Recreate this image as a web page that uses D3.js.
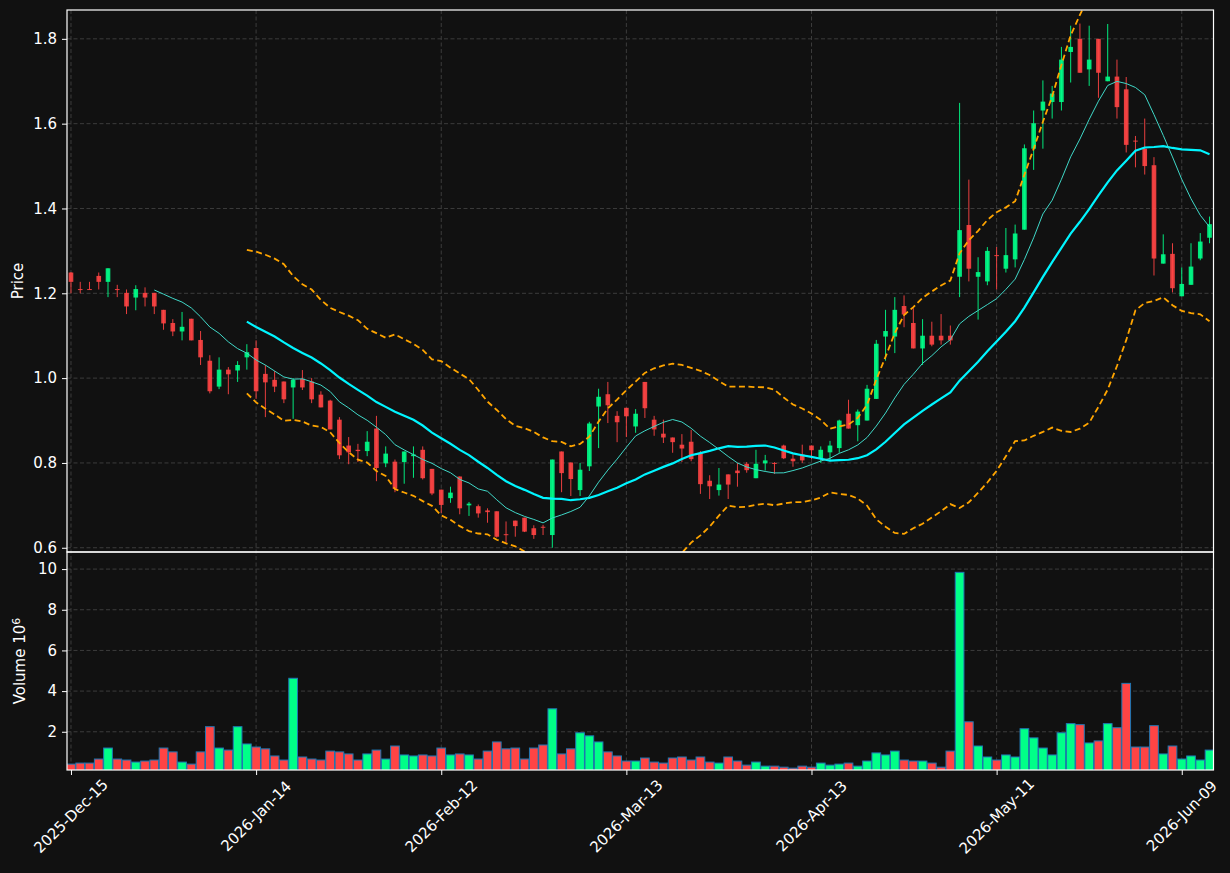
<!DOCTYPE html>
<html>
<head>
<meta charset="utf-8">
<script src="https://cdn.jsdelivr.net/npm/d3@7"></script>
<style>
  body { margin: 0; background: #111111; }
  svg text { font-family: "DejaVu Sans", sans-serif; fill: #ffffff; }
</style>
</head>
<body>
<div id="chart"></div>
<script>
// tick labels on the x axis (bar index based, one label every 20 sessions)
const tickLabels = ["2025-Dec-15", "2026-Jan-14", "2026-Feb-12", "2026-Mar-13", "2026-Apr-13", "2026-May-11", "2026-Jun-09"];
const tickIndex = [0, 20, 40, 60, 80, 100, 120];

const priceTicks = [0.6, 0.8, 1.0, 1.2, 1.4, 1.6, 1.8];
const volumeTicks = [2, 4, 6, 8, 10];

const openPrices = [
  1.249, 1.210, 1.210, 1.241, 1.227, 1.210, 1.201, 1.190, 1.201, 1.201,
  1.161, 1.130, 1.110, 1.140, 1.090, 1.041, 0.980, 1.020, 1.018, 1.049,
  1.071, 1.010, 0.996, 0.992, 0.978, 0.998, 0.992, 0.961, 0.947, 0.902,
  0.841, 0.831, 0.828, 0.881, 0.799, 0.803, 0.802, 0.816, 0.831, 0.786,
  0.737, 0.717, 0.768, 0.700, 0.698, 0.688, 0.686, 0.632, 0.664, 0.671,
  0.646, 0.6495, 0.630, 0.827, 0.801, 0.736, 0.792, 0.933, 0.962, 0.911,
  0.930, 0.886, 0.991, 0.902, 0.869, 0.860, 0.843, 0.850, 0.823, 0.758,
  0.736, 0.773, 0.782, 0.798, 0.764, 0.799, 0.800, 0.841, 0.810, 0.820,
  0.841, 0.811, 0.825, 0.835, 0.916, 0.889, 0.900, 0.951, 1.098, 1.098,
  1.170, 1.130, 1.070, 1.100, 1.100, 1.100, 1.239, 1.361, 1.239, 1.228,
  1.290, 1.258, 1.280, 1.350, 1.541, 1.631, 1.651, 1.651, 1.769, 1.800,
  1.728, 1.800, 1.700, 1.711, 1.681, 1.560, 1.541, 1.502, 1.270, 1.293,
  1.193, 1.220, 1.282, 1.331
];
const highPrices = [
  1.250, 1.227, 1.227, 1.249, 1.259, 1.220, 1.209, 1.219, 1.214, 1.201,
  1.161, 1.139, 1.156, 1.140, 1.111, 1.054, 1.049, 1.026, 1.040, 1.080,
  1.089, 1.031, 1.017, 0.992, 1.000, 1.019, 1.000, 0.969, 0.949, 0.908,
  0.861, 0.845, 0.875, 0.911, 0.839, 0.808, 0.827, 0.839, 0.839, 0.786,
  0.737, 0.744, 0.768, 0.708, 0.702, 0.693, 0.686, 0.662, 0.664, 0.671,
  0.653, 0.654, 0.808, 0.827, 0.801, 0.800, 0.897, 0.975, 0.991, 0.922,
  0.930, 0.927, 0.991, 0.911, 0.902, 0.860, 0.868, 0.878, 0.828, 0.771,
  0.788, 0.773, 0.800, 0.802, 0.831, 0.819, 0.802, 0.843, 0.820, 0.843,
  0.841, 0.839, 0.852, 0.902, 0.949, 0.926, 0.984, 1.090, 1.161, 1.191,
  1.195, 1.165, 1.139, 1.133, 1.151, 1.124, 1.649, 1.468, 1.285, 1.309,
  1.309, 1.354, 1.362, 1.551, 1.631, 1.702, 1.689, 1.781, 1.831, 1.836,
  1.831, 1.800, 1.835, 1.751, 1.710, 1.571, 1.612, 1.521, 1.339, 1.318,
  1.261, 1.318, 1.342, 1.381
];
const lowPrices = [
  1.200, 1.200, 1.209, 1.209, 1.191, 1.191, 1.151, 1.160, 1.169, 1.151,
  1.114, 1.099, 1.089, 1.089, 1.031, 0.964, 0.974, 0.962, 0.991, 1.020,
  0.951, 0.908, 0.967, 0.941, 0.904, 0.972, 0.941, 0.931, 0.879, 0.809,
  0.797, 0.802, 0.816, 0.757, 0.790, 0.731, 0.751, 0.765, 0.761, 0.724,
  0.682, 0.706, 0.679, 0.675, 0.671, 0.659, 0.624, 0.612, 0.626, 0.637,
  0.621, 0.630, 0.600, 0.731, 0.722, 0.722, 0.781, 0.835, 0.894, 0.849,
  0.861, 0.871, 0.906, 0.864, 0.847, 0.824, 0.802, 0.804, 0.727, 0.715,
  0.723, 0.715, 0.744, 0.777, 0.764, 0.782, 0.774, 0.809, 0.791, 0.800,
  0.809, 0.800, 0.804, 0.824, 0.881, 0.851, 0.900, 0.951, 1.041, 1.059,
  1.120, 1.070, 1.031, 1.075, 1.079, 1.079, 1.191, 1.228, 1.138, 1.219,
  1.209, 1.249, 1.261, 1.350, 1.491, 1.541, 1.612, 1.631, 1.697, 1.720,
  1.689, 1.661, 1.700, 1.612, 1.532, 1.497, 1.480, 1.242, 1.270, 1.202,
  1.193, 1.220, 1.278, 1.318
];
const closePrices = [
  1.227, 1.209, 1.209, 1.227, 1.259, 1.209, 1.169, 1.210, 1.190, 1.169,
  1.129, 1.110, 1.121, 1.089, 1.049, 0.969, 1.020, 1.009, 1.031, 1.061,
  0.969, 0.990, 0.980, 0.950, 0.996, 0.978, 0.950, 0.931, 0.879, 0.818,
  0.825, 0.828, 0.850, 0.788, 0.822, 0.739, 0.827, 0.820, 0.764, 0.728,
  0.701, 0.730, 0.693, 0.704, 0.681, 0.684, 0.626, 0.631, 0.651, 0.638,
  0.630, 0.649, 0.808, 0.776, 0.762, 0.784, 0.893, 0.956, 0.936, 0.896,
  0.910, 0.916, 0.929, 0.879, 0.860, 0.849, 0.834, 0.809, 0.750, 0.745,
  0.749, 0.749, 0.776, 0.783, 0.798, 0.806, 0.7995, 0.811, 0.804, 0.806,
  0.830, 0.831, 0.841, 0.900, 0.881, 0.921, 0.975, 1.081, 1.111, 1.161,
  1.150, 1.070, 1.100, 1.079, 1.089, 1.089, 1.349, 1.258, 1.250, 1.300,
  1.289, 1.290, 1.341, 1.542, 1.601, 1.652, 1.671, 1.751, 1.781, 1.720,
  1.751, 1.720, 1.711, 1.639, 1.550, 1.559, 1.500, 1.282, 1.292, 1.212,
  1.222, 1.263, 1.322, 1.363
];
// volume in millions of shares
const volumes = [
  0.41, 0.46, 0.46, 0.66, 1.20, 0.66, 0.61, 0.51, 0.56, 0.61,
  1.20, 1.01, 0.51, 0.41, 1.01, 2.25, 1.20, 1.10, 2.25, 1.40,
  1.25, 1.16, 0.81, 0.61, 4.63, 0.76, 0.66, 0.61, 1.05, 1.01,
  0.91, 0.61, 0.91, 1.10, 0.66, 1.30, 0.86, 0.81, 0.86, 0.81,
  1.20, 0.86, 0.91, 0.86, 0.66, 1.05, 1.50, 1.16, 1.20, 0.66,
  1.20, 1.35, 3.13, 0.91, 1.16, 1.95, 1.80, 1.50, 1.01, 0.81,
  0.56, 0.56, 0.71, 0.51, 0.46, 0.71, 0.76, 0.61, 0.76, 0.51,
  0.46, 0.76, 0.56, 0.36, 0.51, 0.31, 0.31, 0.26, 0.21, 0.31,
  0.26, 0.46, 0.36, 0.41, 0.46, 0.31, 0.56, 0.96, 0.86, 1.05,
  0.61, 0.56, 0.56, 0.46, 0.26, 1.05, 9.84, 2.49, 1.30, 0.76,
  0.61, 0.86, 0.76, 2.15, 1.70, 1.20, 0.86, 1.95, 2.40, 2.35,
  1.45, 1.55, 2.40, 2.20, 4.38, 1.25, 1.25, 2.30, 0.91, 1.30,
  0.66, 0.81, 0.61, 1.10
];

const upColor = "#00ff88";
const downColor = "#ff4444";
const fontSize = "15px";

const width = 1230;
const height = 873;
const plot = { left: 67, right: 1213.5 };
const pricePanel = { top: 10, bottom: 552 };
const volumePanel = { top: 552, bottom: 770 };

const n = closePrices.length;
const bars = d3.range(n).map((i) => ({
  i: i,
  open: openPrices[i],
  high: highPrices[i],
  low: lowPrices[i],
  close: closePrices[i],
  volume: volumes[i],
  up: closePrices[i] >= openPrices[i],
}));

// moving averages and bollinger band from the closes
const rolling = (arr, len, fn) =>
  arr.map((d, i) => (i < len - 1 ? null : fn(arr.slice(i - len + 1, i + 1))));
const ma10 = rolling(closePrices, 10, (w) => d3.mean(w));
const ma20 = rolling(closePrices, 20, (w) => d3.mean(w));
const sd20 = rolling(closePrices, 20, (w) => {
  const m = d3.mean(w);
  return Math.sqrt(d3.mean(w, (v) => (v - m) * (v - m)));
});
const upperBand = ma20.map((m, i) => (m == null ? null : m + 2 * sd20[i]));
const lowerBand = ma20.map((m, i) => (m == null ? null : m - 2 * sd20[i]));

const x = d3.scaleLinear().domain([-0.43, n - 1 + 0.43]).range([plot.left, plot.right]);
const step = x(1) - x(0);

const yPrice = d3.scaleLinear().domain([0.59, 1.868]).range([pricePanel.bottom, pricePanel.top]);
const yVol = d3.scaleLinear().domain([0.12, 10.84]).range([volumePanel.bottom, volumePanel.top]);

const svg = d3
  .select("#chart")
  .append("svg")
  .attr("width", width)
  .attr("height", height)
  .style("background", "#111111");

svg.append("defs")
  .append("clipPath")
  .attr("id", "price-clip")
  .append("rect")
  .attr("x", plot.left)
  .attr("y", pricePanel.top)
  .attr("width", plot.right - plot.left)
  .attr("height", pricePanel.bottom - pricePanel.top);

svg.select("defs")
  .append("clipPath")
  .attr("id", "vol-clip")
  .append("rect")
  .attr("x", plot.left)
  .attr("y", volumePanel.top)
  .attr("width", plot.right - plot.left)
  .attr("height", volumePanel.bottom - volumePanel.top);

// grid
const gridColor = "#3c3c3c";
const grid = svg.append("g").attr("class", "grid")
  .attr("stroke", gridColor)
  .attr("stroke-width", 1)
  .attr("stroke-dasharray", "4,2.5");

grid.selectAll(".hp").data(priceTicks).join("line")
  .attr("x1", plot.left).attr("x2", plot.right)
  .attr("y1", (d) => yPrice(d)).attr("y2", (d) => yPrice(d));
grid.selectAll(".hv").data(volumeTicks).join("line")
  .attr("class", "hv")
  .attr("x1", plot.left).attr("x2", plot.right)
  .attr("y1", (d) => yVol(d)).attr("y2", (d) => yVol(d));
grid.selectAll(".vp").data(tickIndex).join("line")
  .attr("class", "vp")
  .attr("x1", (d) => x(d)).attr("x2", (d) => x(d))
  .attr("y1", pricePanel.top).attr("y2", volumePanel.bottom);

// volume bars
svg.append("g")
  .attr("clip-path", "url(#vol-clip)")
  .selectAll("rect")
  .data(bars)
  .join("rect")
  .attr("x", (d) => x(d.i) - step * 0.47)
  .attr("width", step * 0.94)
  .attr("y", (d) => yVol(d.volume))
  .attr("height", (d) => volumePanel.bottom - yVol(d.volume) + 1)
  .attr("fill", (d) => (d.up ? upColor : downColor))
  .attr("stroke", "#1f77b4")
  .attr("stroke-width", 1);

// candles
const priceGroup = svg.append("g").attr("clip-path", "url(#price-clip)");
const candles = priceGroup.selectAll(".candle").data(bars).join("g").attr("class", "candle");

candles.append("line")
  .attr("x1", (d) => x(d.i)).attr("x2", (d) => x(d.i))
  .attr("y1", (d) => yPrice(d.high)).attr("y2", (d) => yPrice(d.low))
  .attr("stroke", (d) => (d.up ? upColor : downColor))
  .attr("stroke-opacity", 0.9)
  .attr("stroke-width", 1);

candles.append("rect")
  .attr("x", (d) => x(d.i) - step * 0.25)
  .attr("width", step * 0.5)
  .attr("y", (d) => yPrice(Math.max(d.open, d.close)))
  .attr("height", (d) => Math.max(1, Math.abs(yPrice(d.open) - yPrice(d.close))))
  .attr("fill", (d) => (d.up ? upColor : downColor))
  .attr("fill-opacity", 0.9);

// indicator lines
const line = d3.line()
  .defined((d) => d != null)
  .x((d, i) => x(i))
  .y((d) => yPrice(d));

priceGroup.append("path").datum(upperBand)
  .attr("d", line).attr("fill", "none")
  .attr("stroke", "#ffa500").attr("stroke-width", 1.8).attr("stroke-dasharray", "6,3.5");
priceGroup.append("path").datum(lowerBand)
  .attr("d", line).attr("fill", "none")
  .attr("stroke", "#ffa500").attr("stroke-width", 1.8).attr("stroke-dasharray", "6,3.5");
priceGroup.append("path").datum(ma20)
  .attr("d", line).attr("fill", "none")
  .attr("stroke", "#00f5ff").attr("stroke-width", 2.2);
priceGroup.append("path").datum(ma10)
  .attr("d", line).attr("fill", "none")
  .attr("stroke", "#40d8c8").attr("stroke-width", 1);

// axes
const styleAxis = (g) => {
  g.attr("font-size", null).attr("font-family", null);
  g.select(".domain").remove();
  g.selectAll(".tick line").attr("stroke", "#ffffff").attr("stroke-width", 1);
  g.selectAll(".tick text").attr("fill", "#ffffff").style("font-size", fontSize);
};

svg.append("g")
  .attr("transform", `translate(${plot.left}, 0)`)
  .call(d3.axisLeft(yPrice).tickValues(priceTicks).tickFormat(d3.format(".1f")).tickSize(5).tickPadding(5))
  .call(styleAxis);

svg.append("g")
  .attr("transform", `translate(${plot.left}, 0)`)
  .call(d3.axisLeft(yVol).tickValues(volumeTicks).tickFormat(d3.format("d")).tickSize(5).tickPadding(5))
  .call(styleAxis);

svg.append("g")
  .attr("transform", `translate(0, ${volumePanel.bottom})`)
  .call(d3.axisBottom(x).tickValues(tickIndex).tickFormat("").tickSize(5))
  .call(styleAxis);

svg.append("g")
  .selectAll("text")
  .data(tickIndex)
  .join("text")
  .attr("transform", (d) => `translate(${x(d)}, 816) rotate(-45)`)
  .attr("text-anchor", "middle")
  .attr("dy", "0.35em")
  .style("font-size", fontSize)
  .text((d, i) => tickLabels[i]);

// panel frames
[pricePanel, volumePanel].forEach((p) => {
  svg.append("rect")
    .attr("x", plot.left).attr("y", p.top)
    .attr("width", plot.right - plot.left).attr("height", p.bottom - p.top)
    .attr("fill", "none").attr("stroke", "#ffffff").attr("stroke-width", 1.2);
});

// axis titles
svg.append("text")
  .attr("transform", `translate(23, ${(pricePanel.top + pricePanel.bottom) / 2}) rotate(-90)`)
  .attr("text-anchor", "middle")
  .style("font-size", fontSize)
  .text("Price");

const volLabel = svg.append("text")
  .attr("transform", `translate(25, ${(volumePanel.top + volumePanel.bottom) / 2}) rotate(-90)`)
  .attr("text-anchor", "middle")
  .style("font-size", fontSize);
volLabel.append("tspan").text("Volume  10");
volLabel.append("tspan").attr("dy", "-0.5em").style("font-size", "11px").text("6");
</script>
</body>
</html>
